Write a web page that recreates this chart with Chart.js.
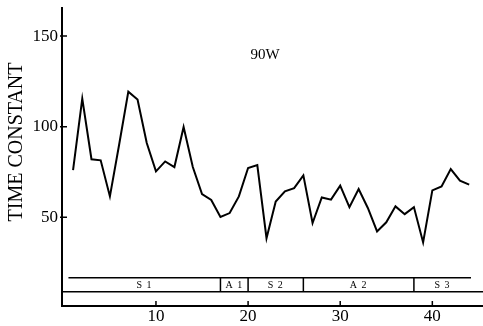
<!DOCTYPE html>
<html>
<head>
<meta charset="utf-8">
<script src="https://cdn.jsdelivr.net/npm/chart.js@4/dist/chart.umd.min.js"></script>
<style>
  html, body { margin: 0; padding: 0; background: #fff; }
  #wrap { width: 483px; height: 326px; }
</style>
</head>
<body>
<div id="wrap"><canvas id="tc-chart" width="483" height="326"></canvas></div>
<script>
/* time constant vs session, 90W */

const sessions = [1, 2, 3, 4, 5, 6, 7, 8, 9, 10, 11, 12, 13, 14, 15, 16, 17, 18, 19, 20, 21, 22,
                  23, 24, 25, 26, 27, 28, 29, 30, 31, 32, 33, 34, 35, 36, 37, 38, 39, 40, 41, 42, 43, 44];
const timeConst = [76, 115.5, 82, 81.4, 61.5, 90, 119.3, 115, 91, 75.3, 80.8, 77.7, 99.8, 77.7, 62.8, 59.5,
                   50.2, 52.3, 61.5, 77.2, 78.8, 38.4, 58.7, 64.3, 66.1, 73.1, 46.8, 60.9, 59.7, 67.4,
                   55.6, 65.6, 55.1, 42.2, 47.2, 56, 51.7, 55.6, 36.1, 64.8, 67, 76.6, 70.2, 68];

const xTickValues = [10, 20, 30, 40];
const yTickValues = [50, 100, 150];

// phase strip under the curve
const phaseNames = ['S 1', 'A 1', 'S 2', 'A 2', 'S 3'];
const phaseStart = [0.5, 17, 20, 26, 38];
const phaseEnd = [17, 20, 26, 38, 44.2];
const stripTop = 16.6;
const stripBottom = 8.9;

const chartTitle = '90W';
const yTitle = 'TIME CONSTANT';

const SERIF = '"Liberation Serif", "DejaVu Serif", serif';

const decoPlugin = {
    id: 'deco',
    afterDatasetsDraw(chart) {
        const ctx = chart.ctx;
        const xs = chart.scales.x, ys = chart.scales.y;
        const area = chart.chartArea;
        ctx.save();
        ctx.strokeStyle = '#000';
        ctx.fillStyle = '#000';

        // inward tick marks
        ctx.lineWidth = 1.5;
        ctx.beginPath();
        for (const v of yTickValues) {
            const py = ys.getPixelForValue(v);
            ctx.moveTo(area.left - 2, py);
            ctx.lineTo(area.left + 5, py);
        }
        for (const v of xTickValues) {
            const px = xs.getPixelForValue(v);
            ctx.moveTo(px, area.bottom);
            ctx.lineTo(px, area.bottom - 5);
        }
        ctx.stroke();

        // phase strip
        const yT = ys.getPixelForValue(stripTop);
        const yB = ys.getPixelForValue(stripBottom);
        ctx.lineWidth = 1.5;
        ctx.beginPath();
        ctx.moveTo(xs.getPixelForValue(phaseStart[0]), yT);
        ctx.lineTo(xs.getPixelForValue(phaseEnd[phaseEnd.length - 1]), yT);
        ctx.moveTo(area.left, yB);
        ctx.lineTo(area.right, yB);
        for (let i = 1; i < phaseStart.length; i++) {
            const px = xs.getPixelForValue(phaseStart[i]);
            ctx.moveTo(px, yT);
            ctx.lineTo(px, yB);
        }
        ctx.stroke();

        ctx.font = '10px ' + SERIF;
        ctx.letterSpacing = '1px';
        ctx.textAlign = 'center';
        ctx.textBaseline = 'middle';
        phaseNames.forEach((name, i) => {
            const mid = (phaseStart[i] + phaseEnd[i]) / 2;
            ctx.fillText(name, xs.getPixelForValue(mid), (yT + yB) / 2 + 0.5);
        });
        ctx.letterSpacing = '0px';

        // panel label
        ctx.font = '15px ' + SERIF;
        ctx.fillText(chartTitle, 265, 55);

        // y axis title
        ctx.font = '20px ' + SERIF;
        ctx.translate(17, 142);
        ctx.rotate(-Math.PI / 2);
        ctx.fillText(yTitle, 0, 0);
        ctx.restore();
    }
};

new Chart(document.getElementById('tc-chart').getContext('2d'), {
    type: 'line',
    data: {
        datasets: [{
            data: sessions.map((s, i) => ({ x: s, y: timeConst[i] })),
            borderColor: '#000',
            borderWidth: 2,
            pointRadius: 0,
            tension: 0,
            fill: false,
        }]
    },
    options: {
        responsive: false,
        animation: false,
        layout: { padding: { top: 8, right: 0, bottom: 0, left: 0 } },
        plugins: {
            legend: { display: false },
            tooltip: { enabled: false },
        },
        scales: {
            x: {
                type: 'linear',
                min: -0.2,
                max: 45.5,
                grid: { display: false, drawTicks: false, tickLength: 0 },
                border: { display: true, color: '#000', width: 2 },
                afterBuildTicks: axis => { axis.ticks = xTickValues.map(v => ({ value: v })); },
                afterFit: axis => { axis.height = 20; axis.paddingLeft = 0; axis.paddingRight = 0; },
                ticks: {
                    color: '#000',
                    padding: 0,
                    maxRotation: 0,
                    font: { family: SERIF, size: 17 },
                },
            },
            y: {
                min: 1,
                max: 165.5,
                grid: { display: false, drawTicks: false, tickLength: 0 },
                border: { display: true, color: '#000', width: 2 },
                afterBuildTicks: axis => { axis.ticks = yTickValues.map(v => ({ value: v })); },
                afterFit: axis => { axis.width = 62; axis.paddingTop = 0; axis.paddingBottom = 0; },
                ticks: {
                    color: '#000',
                    padding: 4,
                    font: { family: SERIF, size: 17 },
                },
            }
        }
    },
    plugins: [decoPlugin]
});
</script>
</body>
</html>
